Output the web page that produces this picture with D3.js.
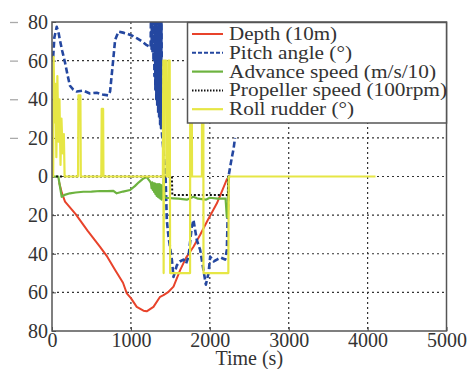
<!DOCTYPE html>
<html><head><meta charset="utf-8">
<script src="https://cdn.jsdelivr.net/npm/d3@7"></script>
<style>
html,body{margin:0;padding:0;background:#fff;}
</style></head>
<body><svg id="c" width="469" height="369" font-family="Liberation Serif"></svg>
<script>
// ---- data ----
const xTicks = [0, 1000, 2000, 3000, 4000, 5000];
const yTicks = [-80, -60, -40, -20, 0, 20, 40, 60, 80];
const seriesNames = ["Depth (10m)", "Pitch angle (°)", "Advance speed (m/s/10)", "Propeller speed (100rpm)", "Roll rudder (°)"];

const depthT = [90,125,165,300,450,609,700,800,900,948,1000,1074,1159,1200,1286,1370,1413,1477,1540,1624,1700,1793,1880,1963,2090,2160,2216,2245];
const depthV = [3,8.5,13,19.5,28,36.4,41.5,48.4,55,60.5,63,67.5,69.5,69.8,67.5,62.3,61.4,59.7,57,48.5,42,36.4,30,23.4,13.9,7,1.5,0];

const pitchT = [15,30,60,85,100,130,165,200,228,270,313,395,480,567,640,712,736,770,800,842,900,947,1010,1074,1140,1201,1250,1256,1262,1268,1274,1280,1286,1292,1298,1304,1310,1316,1322,1328,1334,1340,1346,1352,1358,1364,1370,1376,1382,1388,1394,1420,1440,1455,1476,1519,1540,1582,1620,1667,1700,1730,1772,1793,1836,1878,1920,1950,1984,2005,2050,2090,2140,2195,2216,2229,2237,2280,2300,2320];
const pitchV = [-62,-72,-77.5,-74,-70.7,-65,-59,-52,-47,-45,-44,-44.5,-43,-43.4,-42.5,-42,-44,-58,-70.7,-75,-74.5,-74,-73,-71.6,-70,-68,-67,-90,-66,-90,-64,-90,-60,-90,-52,-90,-45,-90,-40,-90,-36,-90,-33,-90,-30,-90,-27,-90,-25,-90,-22,-10,0,22.5,31,43,52,46,44,43,45,41.5,26,22.5,33,38,48.5,56,50,41.5,44,43,42,43,38,17,0,-10,-14,-20];

const speedT = [0,80,100,123,160,228,300,397,500,609,700,778,820,900,990,1050,1100,1159,1200,1244,1255,1262,1270,1278,1286,1294,1302,1310,1318,1326,1334,1342,1350,1358,1366,1374,1382,1390,1398,1406,1415,1425,1440,1540,1600,1709,1793,1850,1950,2000,2100,2200,2216,2230,2237,2260];
const speedV = [0,0,5,10.5,9.5,8.7,8.3,7.9,7.8,7.5,7.6,7.4,8.7,7.8,7,5,3,1,0.3,2.7,3.5,6,3,7,3.5,8,3.5,9,4,10,4,10.5,4,11,4,11.5,4.5,12,5,11,1,10,11,11.3,11.5,12,10.5,11.5,12,11,11.5,11.5,21,21,0,0];

const propT = [0,1520,1525,2230,2232,2260];
const propV = [0,0,9.6,9.6,0,0];

const rudderT = [0,15,20,35,45,55,68,82,95,108,120,135,150,160,330,335,360,365,625,630,648,652,1405,1410,1415,1420,1445,1450,1470,1475,1492,1497,1750,1752,1770,1775,1900,1902,1918,1920,2235,2240,4100];
const rudderV = [0,0,-62,-28,-48,-10,-52,-18,-40,-6,-30,-12,-22,0,0,-42,-42,0,0,-35,-35,0,0,-60,50,-60,-60,0,0,-60,-60,50,50,-60,-60,0,0,-60,-60,50,50,0,0];

// ---- layout ----
const FONT = "Liberation Serif";
const svg = d3.select("#c");
const L = 52, R = 446.5, T = 22, B = 331;
const x = d3.scaleLinear().domain([0, 5000]).range([L, R]);
const y = d3.scaleLinear().domain([-80, 80]).range([T, B]);

svg.append("defs").append("clipPath").attr("id","clip")
  .append("rect").attr("x",L).attr("y",T).attr("width",R-L).attr("height",B-T);

// grid
const grid = svg.append("g");
grid.selectAll(".gx").data(xTicks.slice(1,-1)).join("line")
  .attr("x1",d=>x(d)).attr("x2",d=>x(d)).attr("y1",T).attr("y2",B)
  .attr("stroke","#333").attr("stroke-width",1.2).attr("stroke-dasharray","2,3");
grid.selectAll(".gy").data(yTicks.slice(1,-1)).join("line")
  .attr("y1",d=>y(d)).attr("y2",d=>y(d)).attr("x1",L).attr("x2",R)
  .attr("stroke","#333").attr("stroke-width",1.2).attr("stroke-dasharray","2,3");

// axes
const xAx = svg.append("g").attr("transform",`translate(0,${B})`)
  .call(d3.axisBottom(x).tickValues(xTicks).tickSizeInner(-4).tickSizeOuter(0).tickPadding(2).tickFormat(d3.format("d")));
xAx.attr("font-family",FONT).attr("font-size",20);
xAx.select(".domain").remove();
xAx.selectAll("line").attr("stroke","#444");
xAx.selectAll("text").attr("fill","#333").attr("dy","0.71em");

const yAx = svg.append("g").attr("transform",`translate(${L},0)`)
  .call(d3.axisLeft(y).tickValues(yTicks).tickSizeInner(-4).tickSizeOuter(0).tickPadding(4).tickFormat(d=>Math.abs(d)));
yAx.attr("font-family",FONT).attr("font-size",20);
yAx.select(".domain").remove();
yAx.selectAll("line").attr("stroke","#444");
yAx.selectAll("text").attr("fill","#333");
yAx.selectAll(".tick").filter(d=>d<0).append("line")
  .attr("x1",-42).attr("x2",-34).attr("y1",0).attr("y2",0)
  .attr("stroke","#aaa").attr("stroke-width",1.3);

svg.append("text").attr("x",(L+R)/2).attr("y",365).attr("text-anchor","middle")
  .attr("font-family",FONT).attr("font-size",20).attr("fill","#333").text("Time (s)");

// series
const plot = svg.append("g").attr("clip-path","url(#clip)");
const line = d3.line().x(d=>x(d[0])).y(d=>y(d[1]));
const zip = (a,b)=>a.map((t,i)=>[t,b[i]]);
const series = [
  {name:seriesNames[0], data:zip(depthT,depthV), color:"#e8432b", dash:null, w:2},
  {name:seriesNames[1], data:zip(pitchT,pitchV), color:"#2447a0", dash:"6,3", w:2.6},
  {name:seriesNames[2], data:zip(speedT,speedV), color:"#6db33f", dash:null, w:2.2},
  {name:seriesNames[3], data:zip(propT,propV), color:"#111", dash:"2,2", w:2},
  {name:seriesNames[4], data:zip(rudderT,rudderV), color:"#e6e645", dash:null, w:2.2},
];
series.forEach(s=>{
  plot.append("path").datum(s.data).attr("d",line).attr("fill","none")
    .attr("stroke",s.color).attr("stroke-width",s.w)
    .attr("stroke-dasharray",s.dash).attr("stroke-linejoin","round");
});

// frame
svg.append("rect").attr("x",L).attr("y",T).attr("width",R-L).attr("height",B-T)
  .attr("fill","none").attr("stroke","#555").attr("stroke-width",1.5);

// legend
const lg = svg.append("g");
lg.append("rect").attr("x",187.5).attr("y",22.5).attr("width",259).attr("height",100.5)
  .attr("fill","#fff").attr("stroke","#555").attr("stroke-width",1.5);
const legendW = [108,123,207,218,125];
series.forEach((s,i)=>{
  const yy = 34 + i*18.8;
  lg.append("line").attr("x1",192).attr("x2",223).attr("y1",yy).attr("y2",yy)
    .attr("stroke",s.color).attr("stroke-width",s.w>2.4?2:s.w).attr("stroke-dasharray",s.dash?(s.dash==="2,2"?"1.5,1.5":"4,2"):null);
  lg.append("text").attr("x",229).attr("y",yy).attr("dy","0.33em")
    .attr("font-family",FONT).attr("font-size",18).attr("fill","#333")
    .attr("textLength",legendW[i]).attr("lengthAdjust","spacingAndGlyphs")
    .text(s.name);
});
</script></body></html>
